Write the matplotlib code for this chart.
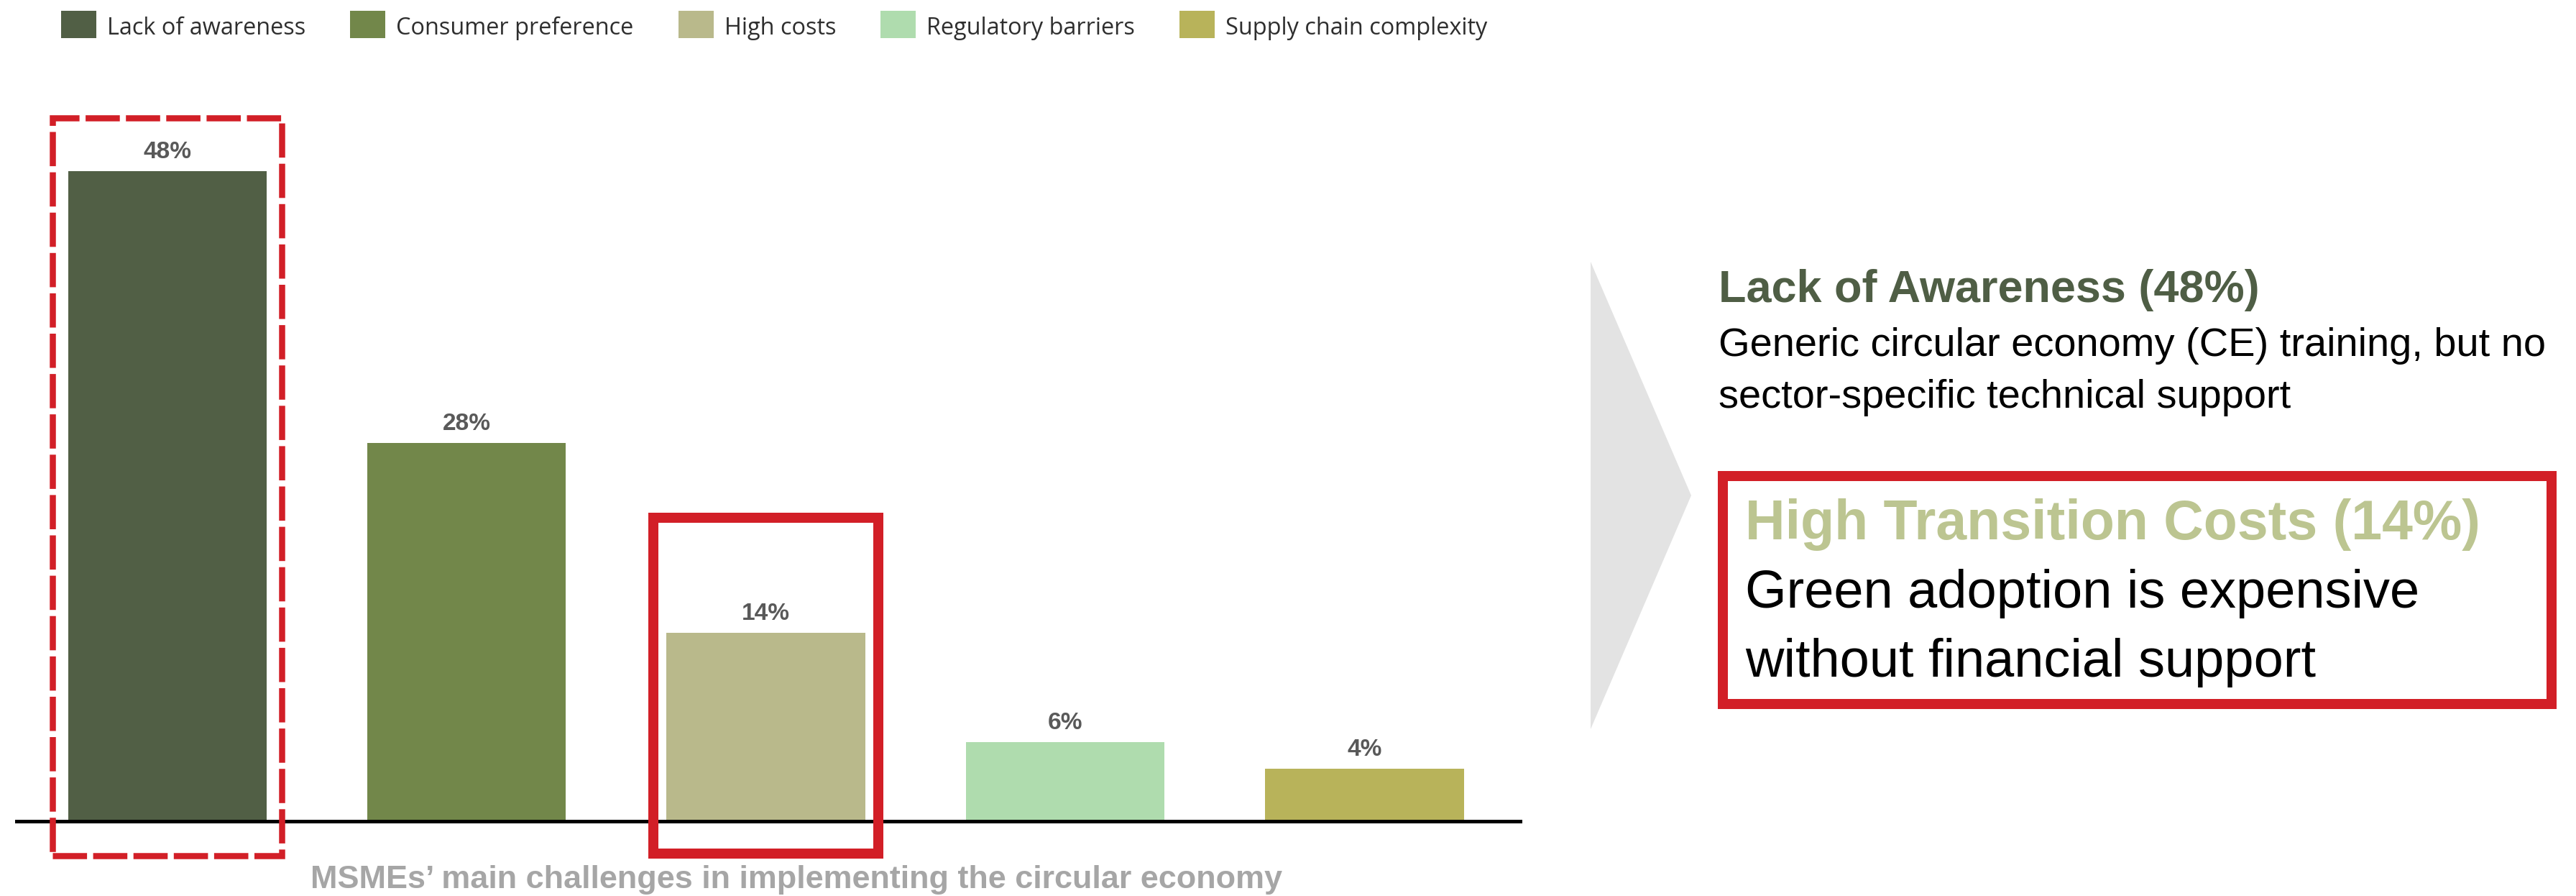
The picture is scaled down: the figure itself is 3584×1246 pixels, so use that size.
import numpy as np
import matplotlib
matplotlib.use('Agg')
import matplotlib.pyplot as plt
from matplotlib.patches import Rectangle, Polygon

# данные опроса МСП
categories = ['Lack of awareness', 'Consumer preference', 'High costs',
              'Regulatory barriers', 'Supply chain complexity']
shares = [48, 28, 14, 6, 4]
value_labels = ['48%', '28%', '14%', '6%', '4%']
bar_colors = ['#515f45', '#72874a', '#b9b98b', '#afdcae', '#b8b35a']
caption = 'MSMEs\u2019 main challenges in implementing the circular economy'

awareness_title = 'Lack of Awareness (48%)'
awareness_lines = ['Generic circular economy (CE) training, but no',
                   'sector-specific technical support']
costs_title = 'High Transition Costs (14%)'
costs_lines = ['Green adoption is expensive', 'without financial support']

RED = '#d21f27'
W, H = 3584, 1246
DPI = 200
PX = 72 / DPI  # пунктов на пиксель


def fx(x):
    return x / W


def fy(y):
    return 1 - y / H


fig = plt.figure(figsize=(W / DPI, H / DPI), dpi=DPI)
fig.patch.set_facecolor('white')
renderer = fig.canvas.get_renderer()

# столбчатая диаграмма
ax = fig.add_axes([fx(21), fy(1145), fx(2118) - fx(21), (1145 - 162) / H])
x = np.arange(len(categories))
ax.bar(x, shares, width=0.663, color=bar_colors, zorder=2)
ax.set_xlim(-0.508, 4.527)
ax.set_ylim(0, 52)
ax.axis('off')
ax.axhline(0, color='black', lw=10 * PX, zorder=3)

for xi, v, lbl in zip(x, shares, value_labels):
    ax.annotate(lbl, (xi, v), xytext=(0, 18 * PX), textcoords='offset points',
                ha='center', va='baseline', fontsize=33.5 * PX, fontweight='bold',
                color='#595959', family='Liberation Sans')

# рамки выделения
ax.add_patch(Rectangle((x[0] - 0.382, -2.38), 0.764, 51.9 + 2.38, fill=False,
                       edgecolor=RED, lw=8.5 * PX, linestyle=(0, (5.6, 1.0)),
                       clip_on=False, zorder=4))
ax.add_patch(Rectangle((x[2] - 0.376, -2.22), 0.752, 22.5 + 2.22, fill=False,
                       edgecolor=RED, lw=14 * PX, clip_on=False, zorder=4,
                       joinstyle='miter'))

fig.text(fx(1108), fy(1235), caption, ha='center', va='baseline',
         fontsize=45 * PX, fontweight='bold', color='#a6a6a6',
         family='Liberation Sans')

# легенда
x0 = 85
for name, col in zip(categories, bar_colors):
    fig.patches.append(Rectangle((fx(x0), fy(53)), 49 / W, 38 / H,
                                 transform=fig.transFigure, facecolor=col,
                                 edgecolor='none'))
    t = fig.text(fx(x0 + 64), fy(48), name, fontsize=11.7, family='Open Sans',
                 color='#2e2e2e', va='baseline')
    x0 = x0 + 64 + t.get_window_extent(renderer).width + 62

# стрелка-шеврон
fig.patches.append(Polygon([(fx(2213), fy(364)), (fx(2353), fy(689)),
                            (fx(2213), fy(1014))], closed=True,
                           transform=fig.transFigure, facecolor='#e3e3e3',
                           edgecolor='none'))

# пояснения справа
fig.text(fx(2391), fy(420), awareness_title, fontsize=63 * PX, fontweight='bold',
         color='#4f5e45', va='baseline', family='Liberation Sans')
for i, line in enumerate(awareness_lines):
    fig.text(fx(2391), fy(495 + 72 * i), line, fontsize=56 * PX, color='black',
             va='baseline', family='Liberation Sans')

fig.patches.append(Rectangle((fx(2397), fy(979)), (3550 - 2397) / W, (979 - 662) / H,
                             transform=fig.transFigure, fill=False, edgecolor=RED,
                             lw=14 * PX, joinstyle='miter'))
fig.text(fx(2428), fy(750), costs_title, fontsize=77 * PX, fontweight='bold',
         color='#bcc591', va='baseline', family='Liberation Sans')
for i, line in enumerate(costs_lines):
    fig.text(fx(2428), fy(845 + 96 * i), line, fontsize=74 * PX, color='black',
             va='baseline', family='Liberation Sans')

fig.savefig('out.png', dpi=DPI)
